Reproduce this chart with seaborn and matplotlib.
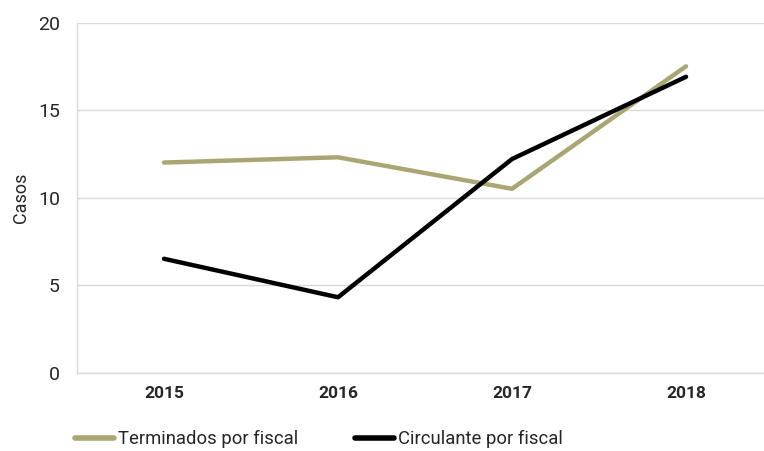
import matplotlib
matplotlib.use('Agg')
import matplotlib.pyplot as plt
import seaborn as sns
import pandas as pd

years = ['2015', '2016', '2017', '2018']
terminados = [12.0, 12.3, 10.5, 17.5]
circulante = [6.5, 4.3, 12.2, 16.9]
series_names = ['Terminados por fiscal', 'Circulante por fiscal']

df = pd.DataFrame({
    'year': years * 2,
    'casos': terminados + circulante,
    'serie': [series_names[0]] * 4 + [series_names[1]] * 4,
})

sns.set_style('white')
plt.rcParams['font.family'] = ['Roboto', 'DejaVu Sans']

fig = plt.figure(figsize=(7.64, 4.51), dpi=100)
ax = fig.add_axes([0.1008, 0.174, 0.911, 0.776])

palette = {series_names[0]: '#A9A673', series_names[1]: '#000000'}
sns.lineplot(data=df, x='year', y='casos', hue='serie', palette=palette,
             linewidth=3.2, sort=False, ax=ax, legend=False)

ax.set_ylim(0, 20)
ax.set_xlim(-0.5, 3.5)
ax.set_yticks([0, 5, 10, 15, 20])
ax.yaxis.grid(True, color='#d9d9d9', linewidth=1)
ax.set_axisbelow(True)

ax.set_xticks([0, 1, 2, 3])
ax.set_xticklabels(years, fontweight='bold', fontsize=12.5)
ax.set_xticks([-0.5, 0.5, 1.5, 2.5, 3.5], minor=True)
ax.tick_params(axis='x', which='major', length=0, pad=10)
ax.tick_params(axis='x', which='minor', length=4.3, color='#d9d9d9', width=1)
ax.tick_params(axis='y', length=4.3, color='#d9d9d9', width=1, labelsize=14, pad=8)

for side in ['top', 'right']:
    ax.spines[side].set_visible(False)
for side in ['left', 'bottom']:
    ax.spines[side].set_color('#d9d9d9')
    ax.spines[side].set_linewidth(1)

ax.set_xlabel('')
ax.set_ylabel('Casos', fontsize=13, labelpad=6)

handles = [plt.Line2D([], [], color=palette[n], linewidth=4) for n in series_names]
fig.legend(handles, series_names, loc='center left', bbox_to_anchor=(0.098, 0.026),
           ncol=2, frameon=False, fontsize=13.3, handlelength=2.1, handletextpad=0.22,
           columnspacing=3.1, borderpad=0, borderaxespad=0)

fig.savefig('out.png', dpi=100)
